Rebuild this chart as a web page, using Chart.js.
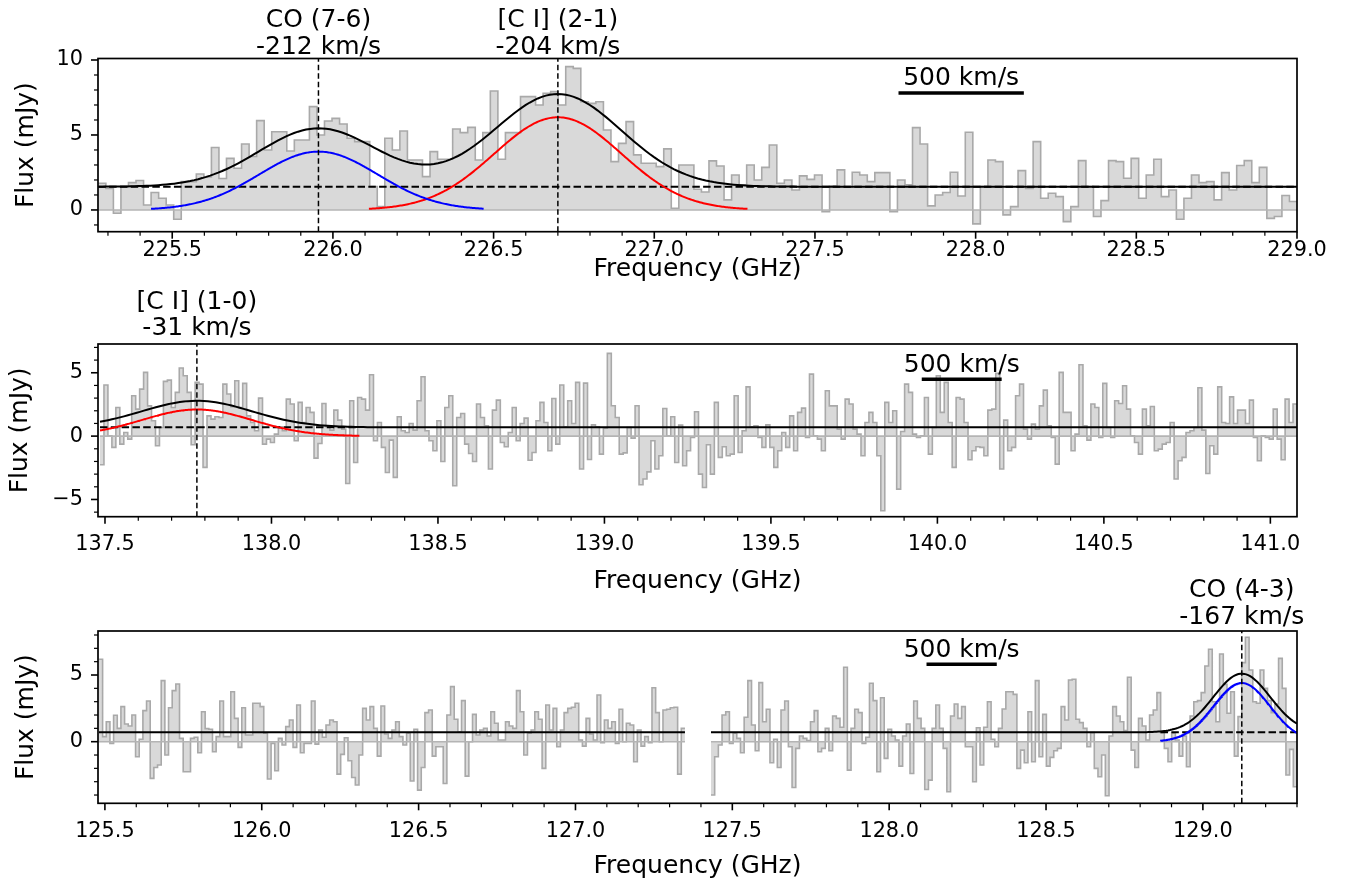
<!DOCTYPE html>
<html><head><meta charset="utf-8">
<script src="https://cdn.jsdelivr.net/npm/chart.js@4.4.0/dist/chart.umd.min.js"></script>
<style>
html,body{margin:0;padding:0;background:#fff;}
#wrap{position:relative;width:1358px;height:883px;overflow:hidden;background:#fff;}
canvas{position:absolute;left:0;top:0;}
</style></head><body>
<div id="wrap">
<canvas id="c1" width="1358" height="883"></canvas>
<canvas id="c2" width="1358" height="883"></canvas>
<canvas id="c3" width="1358" height="883"></canvas>
</div>
<script>
// ---------------- DATA ----------------
// Panel 1 (225.3-229.0 GHz)
const P1_START = 225.27, P1_END = 229.0;
const P1_FLUX = [1.78,1.44,-0.22,1.56,1.82,1.96,0.33,1.16,0.78,0.33,-0.62,1.89,1.89,2.4,2.2,4.16,2.1,3.44,2.78,4.4,3.56,5.96,4.0,5.22,5.22,3.93,4.67,4.67,6.89,5.0,5.93,6.11,5.73,4.78,4.56,4.56,1.56,0.22,4.78,
4.0,5.27,3.33,3.33,2.22,3.89,3.38,3.38,5.4,5.16,5.51,3.33,5.16,7.93,3.38,5.16,5.16,7.56,7.56,7.0,7.78,7.89,7.0,9.56,9.44,7.22,7.11,7.22,5.33,3.22,4.44,5.89,3.67,3.11,3.11,2.89,4.07,0.11,3.0,3.0,
1.38,1.2,3.27,2.93,0.67,2.33,1.67,3.0,2.0,2.84,4.33,1.78,2.0,1.33,2.27,2.04,2.33,-0.11,1.6,2.67,1.51,2.51,2.33,1.89,2.49,2.49,-0.11,2.0,1.67,5.49,4.4,0.27,1.0,1.16,2.51,0.93,5.18,-0.93,1.56,3.33,
3.22,-0.33,0.22,2.62,1.44,4.56,0.78,1.11,0.89,-0.78,0.22,3.29,1.56,-0.44,0.62,3.29,3.22,2.11,3.44,0.78,2.33,3.38,0.89,1.33,-0.62,0.78,2.33,1.82,1.89,0.67,2.49,1.33,2.96,3.29,1.82,2.84,-0.56,-0.44,0.96,0.56];
const P1_CONT = 1.55;
const P1_LINE_NAMES = ['CO (7-6)', '[C I] (2-1)'];
const P1_LINE_VELS = ['-212 km/s', '-204 km/s'];
const P1_CENTERS = [225.955, 226.70];
const P1_PEAKS = [3.89, 6.18];
const P1_SIGMAS = [0.185, 0.198];
const P1_FROM = [225.434, 226.112];
const P1_TO = [226.469, 227.29];
const P1_BAR = [227.76, 228.15, 7.8];
const P1_X_TICKS = [225.5,226.0,226.5,227.0,227.5,228.0,228.5,229.0];
const P1_Y_TICKS = [0,5,10];

// Panel 2 (137.5-141.1 GHz)
const P2_START = 137.485, P2_END = 141.08;
const P2_FLUX = [-2.26,4.03,0.03,-0.89,2.26,-0.63,0.29,-0.24,3.18,2.13,3.71,5.03,2.39,1.21,-0.76,0.68,4.32,4.42,2.26,3.45,5.37,4.76,3.45,-0.68,4.24,4.1,-2.47,1.6,1.34,1.53,1.47,4.1,3.32,2.32,4.37,2.26,4.16,1.6,1.08,0.42,3.0,-0.63,-0.24,-0.5,0.16,0.74,0.42,2.92,2.53,-0.37,2.66,1.08,2.26,1.87,-1.74,-0.58,2.58,0.74,0.47,2.05,1.26,0.55,-3.74,2.79,-2.08,3.05,2.92,2.05,4.84,-0.37,1.08,-0.89,
-2.87,-0.32,-3.26,1.53,0.42,0.29,1.0,0.47,2.79,4.68,0.42,-0.37,-1.16,1.21,-2.0,2.26,3.18,-3.92,1.47,1.79,-0.63,-1.37,-2.0,2.53,1.47,0.82,-2.6,2.05,2.84,-0.5,-0.84,0.29,2.26,-0.37,1.0,1.42,-1.9,-1.29,1.21,2.66,1.08,-1.16,2.97,-0.63,4.03,0.74,2.79,1.0,4.24,-2.6,4.18,-1.84,0.89,0.74,-1.42,0.63,6.53,2.4,1.47,-1.42,-1.32,0.68,-0.16,2.4,-3.84,-3.39,-2.82,-0.37,-2.6,-1.55,2.18,0.03,1.53,-2.08,0.87,-2.34,
-1.16,-0.1,1.92,-3.0,-4.05,-0.68,-3.0,2.66,-1.68,-0.84,-1.55,-1.42,3.18,-1.29,0.42,3.89,0.74,0.82,-0.1,-0.89,0.89,-0.89,-2.47,-1.16,0.29,-0.89,1.6,-1.16,1.87,2.21,-0.1,4.89,0.03,-0.24,-1.16,3.58,2.39,2.39,0.55,-0.24,2.92,2.53,0.55,0.16,-1.55,1.08,1.87,1.08,-1.55,-5.89,2.66,1.08,2.0,-4.18,0.37,4.1,3.45,0.16,-0.1,0.03,3.05,-1.42,0.68,4.76,1.87,4.24,1.08,-2.47,3.05,2.92,1.08,-1.87,-1.16,-0.84,-0.89,-1.55,2.05,2.13,
4.95,-2.6,1.26,-1.16,-0.89,3.18,4.1,0.55,-0.24,0.95,0.55,2.39,3.63,0.82,-0.1,-2.21,5.03,1.87,1.87,-1.16,0.16,5.63,0.82,-0.32,2.53,2.26,-0.1,4.16,0.68,-0.1,2.79,2.58,3.97,2.13,0.03,-0.5,-1.42,2.13,0.82,2.34,-1.16,-1.03,-0.63,-0.5,1.08,-3.39,-1.95,-1.68,0.29,0.42,0.68,3.82,0.47,-2.95,-0.76,-1.42,3.89,1.08,1.0,3.1,1.0,2.05,2.05,1.0,2.84,-0.1,-1.95,0.03,-0.1,-0.24,2.13,-0.24,-1.87,2.92,1.08,2.53];
const P2_CONT = 0.69;
const P2_LINE_NAMES = ['[C I] (1-0)'];
const P2_LINE_VELS = ['-31 km/s'];
const P2_CENTERS = [137.776];
const P2_PEAKS = [2.1];
const P2_SIGMAS = [0.165];
const P2_FROM = [137.485];
const P2_TO = [138.264];
const P2_BAR = [139.953, 140.193, 4.48];
const P2_X_TICKS = [137.5,138.0,138.5,139.0,139.5,140.0,140.5,141.0];
const P2_Y_TICKS = [-5,0,5];

// Panel 3 (125.5-129.3 GHz), two spectral windows
const P3A_START = 125.481, P3A_END = 127.349;
const P3A_FLUX = [6.18,0.38,1.5,-0.13,1.98,1.0,2.63,1.33,1.18,2.0,-1.13,0.18,2.33,3.05,-2.75,-1.93,-1.75,4.58,-1.0,2.55,3.83,4.33,0.25,-2.25,-2.25,0.25,0.33,-0.83,2.25,0.98,0.93,-0.75,0.38,3.05,0.38,0.38,3.75,1.75,-0.43,2.55,0.5,0.5,2.88,2.88,2.63,0.63,-2.8,-0.13,-2.18,0.25,-0.25,1.13,1.63,-0.43,2.75,-0.83,-0.13,-0.13,3.05,-0.18,0.88,0.33,1.25,1.63,1.5,-2.43,-0.95,0.3,-1.43,-2.68,-3.25,-1.0,2.5,1.63,2.63,1.0,-1.08,2.68,0.58,0.25,0.88,1.5,
0.38,-0.25,0.63,-2.95,0.93,-3.63,-1.93,2.18,2.38,-1.08,-0.38,-0.38,-3.13,2.0,4.13,1.68,0.75,3.08,-2.58,0.0,2.05,0.5,0.88,1.0,0.43,2.25,1.38,0.13,0.13,1.5,1.18,1.0,3.83,2.25,-1.0,0.63,0.88,2.25,1.68,-2.0,2.75,0.88,2.5,-0.38,0.88,2.18,2.5,2.58,2.88,0.13,-0.33,1.75,0.58,0.13,3.5,-0.08,1.63,1.0,1.5,-0.13,2.43,0.0,1.38,1.25,-1.5,0.88,-0.33,0.38,-0.08,4.05,2.18,0.0,2.38,2.43,2.55,2.58,-2.43,1.0];
const P3B_START = 127.432, P3B_END = 129.3;
const P3B_FLUX = [-4.0,-1.13,-0.25,2.0,2.25,-0.13,0.63,0.25,-0.83,1.83,4.58,1.25,-0.68,4.43,1.5,2.43,-1.58,0.18,-1.93,2.38,3.05,-0.38,-3.43,-0.5,0.43,0.25,0.08,1.5,2.33,-0.75,-0.5,1.0,-0.68,1.93,1.75,1.08,5.58,-2.13,1.0,2.43,2.18,-0.13,0.33,4.38,3.08,-2.25,3.3,-1.25,0.93,0.43,0.13,-1.83,0.43,1.33,-2.38,3.05,1.75,1.0,-3.58,-2.88,1.0,2.75,1.0,-0.5,-3.75,1.93,2.83,1.75,2.63,-0.38,-0.38,-3.0,1.05,-1.75,1.08,3.0,0.18,-0.38,
1.0,2.45,3.75,3.75,3.55,-2.0,-0.63,-1.58,2.25,-1.5,4.58,-1.13,2.05,-1.83,-1.18,-0.68,-0.5,2.63,1.63,4.63,4.68,1.68,1.43,1.0,-0.38,0.68,-2.0,-2.63,-1.0,-4.05,0.43,2.63,1.93,1.5,0.83,4.83,-0.63,-1.93,1.75,1.18,0.13,2.0,2.38,3.68,0.68,-0.5,-1.5,0.63,0.13,-1.08,0.43,-1.88,1.93,3.0,3.08,3.68,5.68,6.93,3.0,1.5,6.58,4.3,2.13,3.75,-1.08,1.88,5.93,7.83,5.38,3.0,2.88,5.38,4.0,3.08,2.18,2.83,6.25,4.0,-2.5,-0.58,-3.38];
const P3_CONT = 0.7;
const P3_LINE_NAMES = ['CO (4-3)'];
const P3_LINE_VELS = ['-167 km/s'];
const P3_CENTERS = [129.124];
const P3_PEAKS = [4.4];
const P3_SIGMAS = [0.09];
const P3_FROM = [128.865];
const P3_TO = [129.3];
const P3_BAR = [128.119, 128.343, 5.8];
const P3_X_TICKS = [125.5,126.0,126.5,127.0,127.5,128.0,128.5,129.0];
const P3_Y_TICKS = [0,5];

const X_TITLE = 'Frequency (GHz)';
const Y_TITLE = 'Flux (mJy)';
const BAR_LABEL = '500 km/s';

// ---------------- HELPERS ----------------
const FAM = '"DejaVu Sans", "Liberation Sans", sans-serif';
Chart.defaults.font.family = FAM;
Chart.defaults.color = '#000';

function steps(start, end, vals) {
  const w = (end - start) / vals.length;
  const p = vals.map((v, i) => ({x: start + i * w, y: v}));
  p.push({x: end, y: vals[vals.length - 1]});
  return p;
}
function model(x0, x1, base, centers, peaks, sigmas) {
  const n = 300, pts = [];
  for (let i = 0; i <= n; i++) {
    const x = x0 + (x1 - x0) * i / n;
    let y = base;
    for (let j = 0; j < centers.length; j++) {
      const u = (x - centers[j]) / sigmas[j];
      y += peaks[j] * Math.exp(-0.5 * u * u);
    }
    pts.push({x, y});
  }
  return pts;
}
const fmtY = v => (v < 0 ? '\u2212' : '') + Math.abs(v);

function makeDeco(cfg) {
  return {
    id: 'deco_' + cfg.id,
    afterDatasetsDraw(chart) {
      const ctx = chart.ctx, a = chart.chartArea, xs = chart.scales.x, ys = chart.scales.y;
      ctx.save();
      ctx.strokeStyle = '#000';
      const tick = (x1, y1, x2, y2, w) => { ctx.lineWidth = w; ctx.beginPath(); ctx.moveTo(x1, y1); ctx.lineTo(x2, y2); ctx.stroke(); };
      const xMaj = new Set(cfg.xTicks.map(v => Math.round(v * 10)));
      for (let k = Math.ceil(xs.min * 10 - 1e-6); k <= Math.floor(xs.max * 10 + 1e-6); k++) {
        const px = xs.getPixelForValue(k / 10);
        const maj = xMaj.has(k);
        tick(px, a.bottom, px, a.bottom + (maj ? 7 : 4), maj ? 1.6 : 1.2);
      }
      const yMaj = new Set(cfg.yTicks);
      for (let k = Math.ceil(ys.min - 1e-6); k <= Math.floor(ys.max + 1e-6); k++) {
        const py = ys.getPixelForValue(k);
        const maj = yMaj.has(k);
        tick(a.left, py, a.left - (maj ? 7 : 4), py, maj ? 1.6 : 1.2);
      }
      ctx.lineWidth = 1.7;
      ctx.strokeRect(a.left, a.top, a.right - a.left, a.bottom - a.top);
      ctx.fillStyle = '#000';
      ctx.font = '25px ' + FAM;
      ctx.textAlign = 'center'; ctx.textBaseline = 'middle';
      ctx.fillText(X_TITLE, (a.left + a.right) / 2, a.bottom + cfg.xTitleOff);
      ctx.save();
      ctx.translate(cfg.yTitleX, (a.top + a.bottom) / 2);
      ctx.rotate(-Math.PI / 2);
      ctx.fillText(Y_TITLE, 0, 0);
      ctx.restore();
      cfg.lines.forEach(l => {
        const px = xs.getPixelForValue(l.x);
        ctx.fillText(l.name, px, a.top + cfg.annOff[0]);
        ctx.fillText(l.vel, px, a.top + cfg.annOff[1]);
      });
      ctx.textBaseline = 'alphabetic';
      const bx = (xs.getPixelForValue(cfg.bar[0]) + xs.getPixelForValue(cfg.bar[1])) / 2;
      ctx.fillText(BAR_LABEL, bx, ys.getPixelForValue(cfg.bar[2]) - 7.5);
      ctx.restore();
    }
  };
}

function histDS(start, end, vals) {
  return [
    {data: steps(start, end, vals), stepped: true, borderColor: '#a9a9a9', borderWidth: 1.6,
     backgroundColor: '#d9d9d9', fill: 'origin', order: 10},
    {data: [{x: start, y: 0}, {x: end, y: 0}], borderColor: '#b4b4b4', borderWidth: 1.6, fill: false, order: 9}
  ];
}
function lineDS(pts, color, width, dash, order) {
  return {data: pts, borderColor: color, borderWidth: width, borderDash: dash || [], fill: false, order: order};
}

function makeChart(id, p) {
  const XH = 60;
  const cfg = {
    type: 'line',
    data: {datasets: p.datasets},
    options: {
      responsive: false, animation: false, devicePixelRatio: 1,
      layout: {padding: {left: 0, right: 61, top: p.top, bottom: 883 - XH - p.bottom}},
      plugins: {legend: {display: false}, tooltip: {enabled: false}},
      elements: {point: {radius: 0}, line: {tension: 0, borderCapStyle: 'butt'}},
      scales: {
        x: {type: 'linear', min: p.xmin, max: p.xmax,
            grid: {display: false, drawTicks: false}, border: {display: false},
            ticks: {font: {size: 20.8, family: FAM}, color: '#000', padding: p.xTickPad, maxRotation: 0, autoSkip: false,
                    callback: v => v.toFixed(1)},
            afterBuildTicks: s => { s.ticks = p.xTicks.map(v => ({value: v})); },
            afterFit: s => { s.height = XH; }},
        y: {type: 'linear', min: p.ymin, max: p.ymax,
            grid: {display: false, drawTicks: false}, border: {display: false},
            ticks: {font: {size: 20.8, family: FAM}, color: '#000', padding: 15, autoSkip: false, callback: v => fmtY(v)},
            afterBuildTicks: s => { s.ticks = p.yTicks.map(v => ({value: v})); },
            afterFit: s => { s.width = 98; }}
      }
    },
    plugins: [makeDeco({id, xTicks: p.xTicks, yTicks: p.yTicks, xTitleOff: p.xTitleOff, yTitleX: p.yTitleX,
                        annOff: p.annOff, lines: p.lines, bar: p.bar})]
  };
  return new Chart(document.getElementById(id), cfg);
}

// ---------------- PANEL 1 ----------------
(function () {
  const ymin = -1.45, ymax = 10.1;
  const ds = histDS(P1_START, P1_END, P1_FLUX);
  ds.push(lineDS([{x: P1_START, y: P1_CONT}, {x: P1_END, y: P1_CONT}], '#000', 2, [7.5, 3.3], 6));
  const cols = ['#0000ff', '#ff0000'];
  P1_CENTERS.forEach((c, j) => ds.push(lineDS(model(P1_FROM[j], P1_TO[j], 0, [c], [P1_PEAKS[j]], [P1_SIGMAS[j]]), cols[j], 2, null, 5)));
  ds.push(lineDS(model(P1_START, P1_END, P1_CONT, P1_CENTERS, P1_PEAKS, P1_SIGMAS), '#000', 2, null, 4));
  P1_CENTERS.forEach(c => ds.push(lineDS([{x: c, y: ymin}, {x: c, y: ymax}], '#000', 1.5, [5.5, 3], 2)));
  ds.push(lineDS([{x: P1_BAR[0], y: P1_BAR[2]}, {x: P1_BAR[1], y: P1_BAR[2]}], '#000', 3.5, null, 1));
  makeChart('c1', {datasets: ds, top: 58.5, bottom: 231.7, xmin: 225.269, xmax: 229.0, ymin, ymax,
    xTicks: P1_X_TICKS, yTicks: P1_Y_TICKS, xTickPad: 6, xTitleOff: 38, yTitleX: 26, annOff: [-38.5, -11.5],
    lines: P1_CENTERS.map((c, j) => ({x: c, name: P1_LINE_NAMES[j], vel: P1_LINE_VELS[j]})), bar: P1_BAR});
})();

// ---------------- PANEL 2 ----------------
(function () {
  const ymin = -6.36, ymax = 7.27;
  const ds = histDS(P2_START, P2_END, P2_FLUX);
  ds.push(lineDS([{x: P2_START, y: P2_CONT}, {x: P2_TO[0], y: P2_CONT}], '#000', 2, [7.5, 3.3], 6));
  ds.push(lineDS(model(P2_FROM[0], P2_TO[0], 0, P2_CENTERS, P2_PEAKS, P2_SIGMAS), '#ff0000', 2, null, 5));
  ds.push(lineDS(model(P2_START, P2_END, P2_CONT, P2_CENTERS, P2_PEAKS, P2_SIGMAS), '#000', 2, null, 4));
  P2_CENTERS.forEach(c => ds.push(lineDS([{x: c, y: ymin}, {x: c, y: ymax}], '#000', 1.5, [5.5, 3], 2)));
  ds.push(lineDS([{x: P2_BAR[0], y: P2_BAR[2]}, {x: P2_BAR[1], y: P2_BAR[2]}], '#000', 3.5, null, 1));
  makeChart('c2', {datasets: ds, top: 344, bottom: 516.7, xmin: 137.479, xmax: 141.08, ymin, ymax,
    xTicks: P2_X_TICKS, yTicks: P2_Y_TICKS, xTickPad: 15, xTitleOff: 65, yTitleX: 20, annOff: [-42, -16],
    lines: P2_CENTERS.map((c, j) => ({x: c, name: P2_LINE_NAMES[j], vel: P2_LINE_VELS[j]})), bar: P2_BAR});
})();

// ---------------- PANEL 3 ----------------
(function () {
  const ymin = -4.62, ymax = 8.3;
  const ds = histDS(P3A_START, P3A_END, P3A_FLUX).concat(histDS(P3B_START, P3B_END, P3B_FLUX));
  ds.push(lineDS([{x: P3_FROM[0], y: P3_CONT}, {x: P3_TO[0], y: P3_CONT}], '#000', 2, [7.5, 3.3], 6));
  ds.push(lineDS(model(P3_FROM[0], P3_TO[0], 0, P3_CENTERS, P3_PEAKS, P3_SIGMAS), '#0000ff', 2, null, 5));
  ds.push(lineDS(model(P3A_START, P3A_END, P3_CONT, P3_CENTERS, P3_PEAKS, P3_SIGMAS), '#000', 2, null, 4));
  ds.push(lineDS(model(P3B_START, P3B_END, P3_CONT, P3_CENTERS, P3_PEAKS, P3_SIGMAS), '#000', 2, null, 4));
  P3_CENTERS.forEach(c => ds.push(lineDS([{x: c, y: ymin}, {x: c, y: ymax}], '#000', 1.5, [5.5, 3], 2)));
  ds.push(lineDS([{x: P3_BAR[0], y: P3_BAR[2]}, {x: P3_BAR[1], y: P3_BAR[2]}], '#000', 3.5, null, 1));
  makeChart('c3', {datasets: ds, top: 631, bottom: 803.3, xmin: 125.478, xmax: 129.3, ymin, ymax,
    xTicks: P3_X_TICKS, yTicks: P3_Y_TICKS, xTickPad: 16, xTitleOff: 63, yTitleX: 26, annOff: [-41, -14],
    lines: P3_CENTERS.map((c, j) => ({x: c, name: P3_LINE_NAMES[j], vel: P3_LINE_VELS[j]})), bar: P3_BAR});
})();
</script>
</body></html>
